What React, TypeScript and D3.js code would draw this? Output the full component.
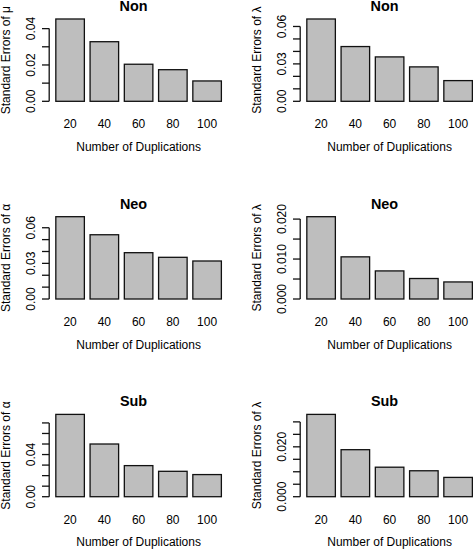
import React from "react";
import * as d3 from "d3";

const categories = ["20", "40", "60", "80", "100"];

const nonMu = [0.0453, 0.0328, 0.0204, 0.0174, 0.0112];
const nonLambda = [0.066, 0.0439, 0.0356, 0.0276, 0.0166];
const neoAlpha = [0.0693, 0.0541, 0.039, 0.0351, 0.032];
const neoLambda = [0.0206, 0.01055, 0.00703, 0.00513, 0.00427];
const subAlpha = [0.0781, 0.05, 0.0295, 0.0241, 0.021];
const subLambda = [0.033, 0.01885, 0.01183, 0.0104, 0.00774];

const ticksA = [0, 0.01, 0.02, 0.03, 0.04];
const labelsA = ["0.00", "", "0.02", "", "0.04"];
const ticksB = [0, 0.01, 0.02, 0.03, 0.04, 0.05, 0.06];
const labelsB = ["0.00", "", "", "0.03", "", "", "0.06"];
const ticksC = [0, 0.005, 0.01, 0.015, 0.02];
const labelsC = ["0.000", "", "0.010", "", "0.020"];
const ticksD = [0, 0.01, 0.02, 0.03, 0.04, 0.05, 0.06, 0.07];
const labelsD = ["0.00", "", "", "", "0.04", "", "", ""];
const ticksE = [0, 0.005, 0.01, 0.015, 0.02, 0.025, 0.03];
const labelsE = ["0.000", "", "", "", "0.020", "", ""];

const titles = ["Non", "Non", "Neo", "Neo", "Sub", "Sub"];
const yTitles = [
  "Standard Errors of μ",
  "Standard Errors of λ",
  "Standard Errors of α",
  "Standard Errors of λ",
  "Standard Errors of α",
  "Standard Errors of λ",
];
const xTitle = "Number of Duplications";

const panels = [
  { values: nonMu, ticks: ticksA, labels: labelsA },
  { values: nonLambda, ticks: ticksB, labels: labelsB },
  { values: neoAlpha, ticks: ticksB, labels: labelsB },
  { values: neoLambda, ticks: ticksC, labels: labelsC },
  { values: subAlpha, ticks: ticksD, labels: labelsD },
  { values: subLambda, ticks: ticksE, labels: labelsE },
];

const FONT = "'Liberation Sans', Arial, Helvetica, sans-serif";
const COL_PITCH = 251;
const ROW_PITCH = 197.7;
const PLOT_LEFT = 49.2;
const PLOT_W = 178.8;
const PLOT_TOP = 15.7;
const PLOT_BOTTOM = 104.6;
const STROKE = "#111";

function Panel({ idx }: { idx: number }) {
  const p = panels[idx];
  const col = idx % 2;
  const row = Math.floor(idx / 2);
  const L = PLOT_LEFT + COL_PITCH * col;
  const R = L + PLOT_W;
  const T = PLOT_TOP + ROW_PITCH * row;
  const B = PLOT_BOTTOM + ROW_PITCH * row;
  const off = ROW_PITCH * row;
  const max = d3.max(p.values) as number;
  const y = d3
    .scaleLinear()
    .domain([-0.04 * max, 1.04 * max])
    .range([B, T]);
  const x = d3
    .scaleBand<string>()
    .domain(categories)
    .range([L, R])
    .paddingInner(1 / 6)
    .paddingOuter(0.19333);
  const tickLen = 7.2;
  const y0 = y(0);
  const yTop = y(p.ticks[p.ticks.length - 1]);
  const midY = (T + B) / 2;
  return (
    <g>
      {p.values.map((v, i) => (
        <rect
          key={i}
          x={x(categories[i])}
          y={y(v)}
          width={x.bandwidth()}
          height={y0 - y(v)}
          fill="#BEBEBE"
          stroke={STROKE}
          strokeWidth={1.3}
        />
      ))}
      <line x1={L} x2={L} y1={y0} y2={yTop} stroke={STROKE} strokeWidth={1.3} />
      {p.ticks.map((t, i) => (
        <g key={i}>
          <line
            x1={L - tickLen}
            x2={L}
            y1={y(t)}
            y2={y(t)}
            stroke={STROKE}
            strokeWidth={1.3}
          />
          {p.labels[i] ? (
            <text
              transform={`translate(${L - 14.3},${y(t)}) rotate(-90)`}
              textAnchor="middle"
              fontSize={12}
              fontFamily={FONT}
            >
              {p.labels[i]}
            </text>
          ) : null}
        </g>
      ))}
      {categories.map((c) => (
        <text
          key={c}
          x={(x(c) as number) + x.bandwidth() / 2}
          y={128.4 + off}
          textAnchor="middle"
          fontSize={12}
          fontFamily={FONT}
        >
          {c}
        </text>
      ))}
      <text
        x={(L + R) / 2}
        y={151 + off}
        textAnchor="middle"
        fontSize={12}
        fontFamily={FONT}
      >
        {xTitle}
      </text>
      <text
        transform={`translate(${L - 39.5},${midY}) rotate(-90)`}
        textAnchor="middle"
        fontSize={12}
        fontFamily={FONT}
      >
        {yTitles[idx]}
      </text>
      <text
        x={L + 84.3}
        y={11 + off}
        textAnchor="middle"
        fontSize={14.4}
        fontWeight="bold"
        fontFamily={FONT}
      >
        {titles[idx]}
      </text>
    </g>
  );
}

export default function App() {
  return (
    <svg
      width={473}
      height={549}
      style={{ position: "absolute", left: 0, top: 0, background: "#fff" }}
    >
      <rect width={473} height={549} fill="#fff" />
      {panels.map((_, i) => (
        <Panel key={i} idx={i} />
      ))}
    </svg>
  );
}
